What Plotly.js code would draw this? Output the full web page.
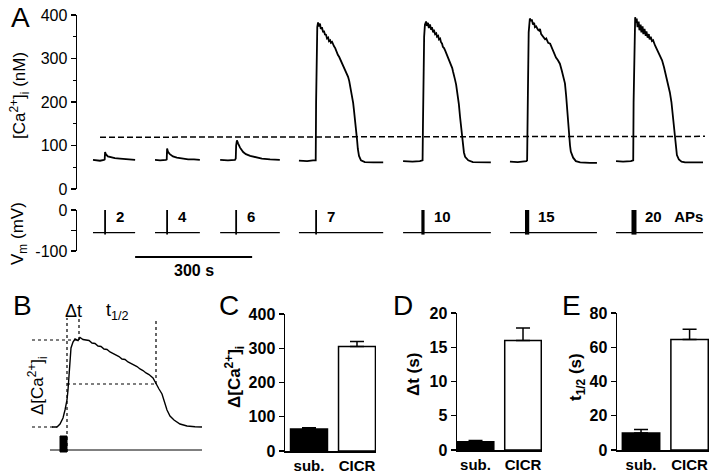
<!DOCTYPE html>
<html><head><meta charset="utf-8">
<script src="https://cdn.plot.ly/plotly-3.0.1.min.js"></script>
<style>html,body{margin:0;padding:0;background:#fff}#chart{width:720px;height:472px}</style>
</head><body><div id="chart"></div>
<script>
// ===== Panel A: [Ca2+]i sweeps (time s, Ca nM) =====
const apLabels = ['2','4','6','7','10','15','20\u00a0\u00a0\u00a0APs'];
const stimTimes = [72,231,408,613,887,1154,1428];
const sweepStart = [41,200,367,569,836,1110,1382];
const sweepEnd = [149,315,520,785,1061,1333,1605];
const vmRest = -55, vmSpikeLow = -60, vmSpikeTop = 0;

const caT1 = [41,59,69,71,72,74,79,87,97,110,123,136,149];
const caV1 = [67,65,67,68,85,80,75,73,71,70,69,68,67];
const caT2 = [200,213,228,230,231,233,238,246,256,269,285,300,315];
const caV2 = [67,66,67,68,93,86,80,75,72,70,68,68,67];
const caT3 = [367,387,405,407,408,410,413,418,426,433,444,456,474,495,520];
const caV3 = [67,66,67,70,100,112,105,95,85,80,76,73,70,68,67];
const caT4 = [569,590,605,612,613,614,616,618,620,623,625,628,631,633,636,638,641,644,646,649,651,654,656,659,662,664,667,669,672,674,677,680,683,687,690,692,695,698,700,703,705,708,710,713,715,718,720,723,728,738,760,785];
const caV4 = [65,64,66,66,200,330,372,383,374,380,368,372,360,364,354,356,346,348,340,342,336,338,332,328,324,318,314,308,304,300,296,290,284,278,272,266,258,248,238,228,215,198,182,160,138,113,92,76,66,62,61,61];
const caT5 = [836,860,879,886,887,888,890,892,895,897,900,902,905,908,910,913,915,918,921,923,926,928,931,933,936,938,941,944,946,949,951,954,956,959,962,964,967,969,972,974,977,979,982,985,987,990,992,995,1003,1015,1033,1061];
const caV5 = [64,63,64,66,150,260,350,378,385,375,382,370,378,366,372,360,366,356,358,350,352,344,346,338,334,327,324,318,314,308,304,297,292,286,278,270,262,252,240,228,215,195,166,138,113,94,84,74,66,62,61,61];
const caT6 = [1110,1130,1152,1154,1156,1158,1161,1164,1166,1169,1172,1174,1177,1180,1182,1185,1187,1190,1195,1200,1203,1208,1213,1218,1220,1225,1228,1233,1238,1243,1246,1251,1254,1256,1259,1261,1264,1266,1272,1279,1290,1315,1333];
const caV6 = [63,62,64,66,220,360,392,386,390,378,382,372,374,368,366,364,368,356,350,344,346,336,334,322,318,308,302,296,288,272,262,243,215,189,158,128,100,86,72,64,61,60,60];
const caT7 = [1382,1400,1420,1426,1427,1429,1431,1433,1435,1437,1440,1442,1445,1447,1450,1452,1455,1458,1460,1463,1466,1468,1471,1474,1477,1482,1487,1492,1497,1500,1505,1510,1515,1520,1524,1526,1528,1531,1534,1538,1543,1550,1559,1580,1605];
const caV7 = [64,63,64,66,200,350,395,382,392,372,385,365,378,360,374,356,368,352,362,348,356,344,350,340,342,330,320,312,302,296,280,262,243,222,200,182,158,128,100,78,68,63,61,61,61];
const threshT = [59,1610];
const threshCa = [119,121];
const scaleBarT = [149,449];
const scaleBarLabel = '300 s';

// ===== Panel B: schematic transient =====
const bT = [2,7,10,13,15,17,18,19,20,21,23,25,28,30,33,36,39,42,45,48,51,54,57,60,63,66,69,72,75,78,81,84,87,90,93,96,99,103,106,109,112,115,117,120,124,130,137,145,152];
const bCa = [0,0,12,36,68,108,148,208,268,316,340,352,346,358,350,348,346,336,334,324,322,312,310,300,294,288,282,272,270,260,254,248,242,232,226,216,210,196,172,152,132,96,68,44,28,12,4,1,0];
const bBase = 0, bPeak = 348, bHalf = 172;
const bOnset = 17, bTPeak = 29, bTHalf = 106;
const bGuideLeft = -18, bGuideTop = 436, bHalfTop = 428, bOnsetBottom = -100;
const bStimT = [10,17], bStimTop = -36, bStimBase = -100;
const bStimLineT = [0,152], bStimLineLevel = -92;

// ===== Panels C-E: bars =====
const barCats = ['sub.','CICR'];
const dCaMean = [64,305];  const dCaErr = [4,15];
const dtMean = [1.2,16.0]; const dtErr = [0.2,1.8];
const thMean = [10,64.5];  const thErr = [2,6];

// ===== build =====
const W=720,H=472;
const fx=p=>p/W, fy=p=>1-p/H;
const K='#000';
const FONT='Liberation Sans, Arial, sans-serif';
const traces=[];
const caT=[caT1,caT2,caT3,caT4,caT5,caT6,caT7];
const caV=[caV1,caV2,caV3,caV4,caV5,caV6,caV7];
caT.forEach((t,i)=>traces.push({type:'scatter',mode:'lines',x:t,y:caV[i],xaxis:'x',yaxis:'y',line:{color:K,width:1.8},hoverinfo:'skip'}));
traces.push({type:'scatter',mode:'lines',x:threshT,y:threshCa,xaxis:'x',yaxis:'y',line:{color:K,width:1.5,dash:'6px,3px'},hoverinfo:'skip'});
const spikeWidth=[1.8,1.8,1.8,1.8,3.2,4.2,5];
sweepStart.forEach((s,i)=>{
  traces.push({type:'scatter',mode:'lines',x:[s,sweepEnd[i]],y:[vmRest,vmRest],xaxis:'x2',yaxis:'y2',line:{color:K,width:1.2},hoverinfo:'skip'});
  traces.push({type:'scatter',mode:'lines',x:[stimTimes[i],stimTimes[i]],y:[vmSpikeLow,vmSpikeTop],xaxis:'x2',yaxis:'y2',line:{color:K,width:spikeWidth[i]},hoverinfo:'skip'});
});
traces.push({type:'scatter',mode:'lines',x:scaleBarT,y:[0.5,0.5],xaxis:'x2',yaxis:'y7',line:{color:K,width:2},hoverinfo:'skip'});

// B
const dot={color:K,width:1.2,dash:'dot'};
const guide=(x,y)=>traces.push({type:'scatter',mode:'lines',x,y,xaxis:'x3',yaxis:'y3',line:dot,hoverinfo:'skip'});
guide([bGuideLeft,bT[1]],[bBase,bBase]);
guide([bGuideLeft,bTPeak],[bPeak,bPeak]);
guide([bOnset,bTHalf],[bHalf,bHalf]);
guide([bOnset,bOnset],[bOnsetBottom,bGuideTop]);
guide([bTPeak,bTPeak],[bPeak,bGuideTop]);
guide([bTHalf,bTHalf],[bHalf,bHalfTop]);
traces.push({type:'scatter',mode:'lines',x:bT,y:bCa,xaxis:'x3',yaxis:'y3',line:{color:K,width:1.4},hoverinfo:'skip'});
traces.push({type:'scatter',mode:'lines',x:bStimLineT,y:[bStimLineLevel,bStimLineLevel],xaxis:'x3',yaxis:'y3',line:{color:K,width:1},hoverinfo:'skip'});
traces.push({type:'scatter',mode:'lines',x:[bStimT[0],bStimT[0],bStimT[1],bStimT[1],bStimT[0]],y:[bStimBase,bStimTop,bStimTop,bStimBase,bStimBase],xaxis:'x3',yaxis:'y3',fill:'toself',fillcolor:K,line:{color:K,width:1},hoverinfo:'skip'});

// bars
const barTrace=(mean,err,xa,ya)=>({type:'bar',x:barCats.map((_,i)=>i),y:mean,width:0.77,xaxis:xa,yaxis:ya,
  marker:{color:[K,'#fff'],line:{color:K,width:1.5}},
  error_y:{type:'data',symmetric:false,array:err,arrayminus:err.map(()=>0),color:K,thickness:1.5,width:7},hoverinfo:'skip'});
traces.push(barTrace(dCaMean,dCaErr,'x4','y4'));
traces.push(barTrace(dtMean,dtErr,'x5','y5'));
traces.push(barTrace(thMean,thErr,'x6','y6'));

const hid=(d,r,a)=>({domain:d,range:r,visible:false,anchor:a,fixedrange:true});
const yl=(d,r,a,extra)=>Object.assign({domain:d,range:r,anchor:a,showline:true,linecolor:K,linewidth:1.4,ticks:'outside',ticklen:5,tickwidth:1.4,tickcolor:K,showgrid:false,zeroline:false,tickfont:{family:FONT,size:16,color:K}},extra||{});
const xb=(d,r,a)=>({domain:d,range:r,anchor:a,showline:true,linecolor:K,linewidth:1.5,ticks:'',showgrid:false,zeroline:false,tickvals:[0,1],ticktext:barCats,tickfont:{family:FONT,size:15,color:K,weight:'bold'}});
const boldTick={family:FONT,size:16,color:K,weight:'bold'};

const layout={
  width:W,height:H,margin:{l:0,r:0,t:0,b:0},paper_bgcolor:'#fff',plot_bgcolor:'rgba(0,0,0,0)',showlegend:false,
  font:{family:FONT,color:K},
  xaxis:hid([fx(77),fx(712)],[0,1628],'y'),
  yaxis:yl([fy(189),fy(15)],[0,400],'x',{tick0:0,dtick:100,minor:{ticks:'outside',ticklen:3,tickwidth:1,tickcolor:K,dtick:50,tick0:0,showgrid:false}}),
  xaxis2:hid([fx(77),fx(712)],[0,1628],'y2'),
  yaxis2:yl([fy(251),fy(210)],[-100,0],'x2',{tickmode:'array',tickvals:[-100,0],ticktext:['-100','0'],minor:{tickmode:'array',tickvals:[-50],ticks:'outside',ticklen:5,tickwidth:1.4,tickcolor:K,showgrid:false}}),
  yaxis7:hid([fy(262),fy(252)],[0,1],'x2'),
  xaxis3:hid([fx(30),fx(205)],[-20,155],'y3'),
  yaxis3:hid([fy(460),fy(300)],[-132,508],'x3'),
  xaxis4:xb([fx(285),fx(376)],[-0.5,1.396],'y4'),
  yaxis4:yl([fy(451),fy(314)],[0,400],'x4',{dtick:100,tick0:0,tickfont:boldTick,linewidth:1.5}),
  xaxis5:xb([fx(457),fx(542)],[-0.39,1.4],'y5'),
  yaxis5:yl([fy(450),fy(313)],[0,20],'x5',{dtick:5,tick0:0,tickfont:boldTick,linewidth:1.5}),
  xaxis6:xb([fx(617),fx(709)],[-0.495,1.4],'y6'),
  yaxis6:yl([fy(450),fy(313)],[0,80],'x6',{dtick:20,tick0:0,tickfont:boldTick,linewidth:1.5}),
  annotations:[]
};
const ann=(o)=>layout.annotations.push(Object.assign({showarrow:false,xref:'paper',yref:'paper',font:{family:FONT,size:16,color:K}},o));
// panel letters
[['A',20,17],['B',22,305],['C',229,305],['D',403,305],['E',571,305]].forEach(([t,x,y])=>ann({text:t,x:fx(x),y:fy(y),xanchor:'center',yanchor:'middle',font:{family:FONT,size:28,color:K}}));
// axis titles
ann({text:'[Ca<sup>2+</sup>]<sub>i</sub> (nM)',x:fx(19),y:fy(96),textangle:-90,xanchor:'center',yanchor:'middle',font:{family:FONT,size:17,color:K}});
ann({text:'V<sub>m</sub> (mV)',x:fx(19),y:fy(234),textangle:-90,xanchor:'center',yanchor:'middle',font:{family:FONT,size:17,color:K}});
ann({text:'Δ[Ca<sup>2+</sup>]<sub>i</sub>',x:fx(37),y:fy(386),textangle:-90,xanchor:'center',yanchor:'middle',font:{family:FONT,size:17,color:K}});
ann({text:'<b>Δ[Ca<sup>2+</sup>]<sub>i</sub></b>',x:fx(234),y:fy(377),textangle:-90,xanchor:'center',yanchor:'middle',font:{family:FONT,size:17,color:K}});
ann({text:'<b>Δt (s)</b>',x:fx(413),y:fy(375),textangle:-90,xanchor:'center',yanchor:'middle',font:{family:FONT,size:17,color:K}});
ann({text:'<b>t<sub>1/2</sub> (s)</b>',x:fx(577),y:fy(377),textangle:-90,xanchor:'center',yanchor:'middle',font:{family:FONT,size:17,color:K}});
// B labels
ann({text:'Δt',x:fx(73),y:fy(311),xanchor:'center',yanchor:'middle',font:{family:FONT,size:18,color:K}});
ann({text:'t<sub>1/2</sub>',x:fx(117),y:fy(311),xanchor:'center',yanchor:'middle',font:{family:FONT,size:18,color:K}});
// AP labels
stimTimes.forEach((t,i)=>ann({text:'<b>'+apLabels[i]+'</b>',xref:'x2',yref:'y2',x:t,y:-16,xanchor:'left',yanchor:'middle',xshift:9,font:{family:FONT,size:15,color:K}}));
// scale bar label
ann({text:'<b>'+scaleBarLabel+'</b>',xref:'x2',x:(scaleBarT[0]+scaleBarT[1])/2,y:fy(270),xanchor:'center',yanchor:'middle',font:{family:FONT,size:16,color:K}});

Plotly.newPlot('chart',traces,layout,{staticPlot:true,displayModeBar:false});
</script></body></html>
